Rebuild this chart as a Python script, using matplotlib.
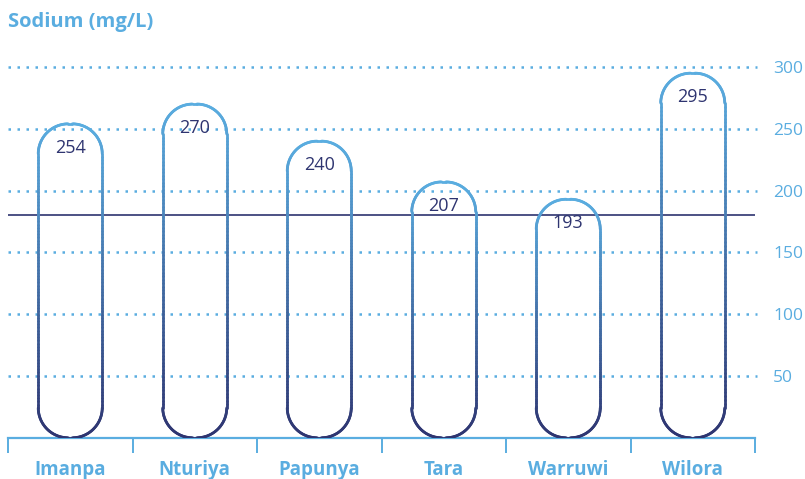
import numpy as np
import matplotlib.pyplot as plt
from matplotlib.collections import LineCollection
from matplotlib.colors import LinearSegmentedColormap

sites = ['Imanpa', 'Nturiya', 'Papunya', 'Tara', 'Warruwi', 'Wilora']
sodium = [254, 270, 240, 207, 193, 295]
guideline = 180
yticks = [50, 100, 150, 200, 250, 300]

light = '#5aade0'
navy = '#2e3470'
cmap = LinearSegmentedColormap.from_list('stroke', [navy, light])

W, H, DPI = 805, 479, 100
fig = plt.figure(figsize=(W / DPI, H / DPI), dpi=DPI)

# axes box in pixels: x 8..755, y=0 at 437.8, 1.236 px per mg/L
px_per_unit = 1.236
ymax = 330
left, right_px = 8, 755
y0 = 437.8
ax = fig.add_axes([left / W, (H - y0) / H, (right_px - left) / W, ymax * px_per_unit / H])
ax.set_xlim(-0.5, len(sites) - 0.5)
ax.set_ylim(0, ymax)
for s in ax.spines.values():
    s.set_visible(False)

xpx = (right_px - left) / len(sites)   # pixels per category
bar_w = 64 / xpx
rx = 30 / xpx
ry = 30 / px_per_unit

# dotted gridlines
for t in yticks:
    ax.plot([-0.5, len(sites) - 0.5 + 0.02], [t, t], color=light, lw=1.8, dashes=(1, 2.6),
            dash_capstyle='butt', clip_on=False, zorder=1)

# guideline value
ax.axhline(guideline, color=navy, lw=1.2, zorder=2)


def rounded_outline(xc, h):
    # closed outline of a bar with fully rounded corners, in data coords
    x0, x1 = xc - bar_w / 2, xc + bar_w / 2
    pts = []
    th = np.linspace(0, np.pi / 2, 40)
    # top right corner
    pts += list(zip(x1 - rx + rx * np.cos(th), h - ry + ry * np.sin(th)))
    # top left corner
    pts += list(zip(x0 + rx - rx * np.cos(th[::-1]), h - ry + ry * np.sin(th[::-1])))
    # left side down
    ys = np.linspace(h - ry, ry, 80)
    pts += list(zip(np.full_like(ys, x0), ys))
    # bottom left corner
    pts += list(zip(x0 + rx - rx * np.cos(th), ry - ry * np.sin(th)))
    # bottom right corner
    pts += list(zip(x1 - rx + rx * np.cos(th[::-1]), ry - ry * np.sin(th[::-1])))
    ys = np.linspace(ry, h - ry, 80)
    pts += list(zip(np.full_like(ys, x1), ys))
    pts.append(pts[0])
    return np.array(pts)


for i, v in enumerate(sodium):
    p = rounded_outline(i, v)
    segs = np.stack([p[:-1], p[1:]], axis=1)
    mid = (p[:-1, 1] + p[1:, 1]) / 2
    lc = LineCollection(segs, colors=cmap(mid / v), linewidths=2.0, capstyle='round', zorder=3)
    ax.add_collection(lc)
    ax.text(i, v - 19.5, str(v), ha='center', va='center', fontsize=13,
            color=navy, family='Open Sans', zorder=4)

# bottom axis with separators between sites
ax.plot([-0.5, len(sites) - 0.5], [0, 0], color=light, lw=1.6, clip_on=False, zorder=2)
ax.set_xticks(np.arange(-0.5, len(sites)), minor=True)
ax.tick_params(axis='x', which='minor', length=10.5, width=1.4, color=light, direction='out')
ax.set_xticks(range(len(sites)))
ax.set_xticklabels(sites, fontsize=13.5, fontweight='bold', color=light, family='Open Sans')
ax.tick_params(axis='x', which='major', length=0, pad=16)

ax.yaxis.tick_right()
ax.set_yticks(yticks)
ax.set_yticklabels([str(t) for t in yticks], fontsize=12.5, color=light, family='Open Sans')
ax.tick_params(axis='y', length=0, pad=13)

fig.text(8 / W, 1 - 22 / H, 'Sodium (mg/L)', fontsize=14.5, fontweight='bold', color=light,
         family='Open Sans', va='center', ha='left')

fig.savefig('out.png', dpi=DPI)
